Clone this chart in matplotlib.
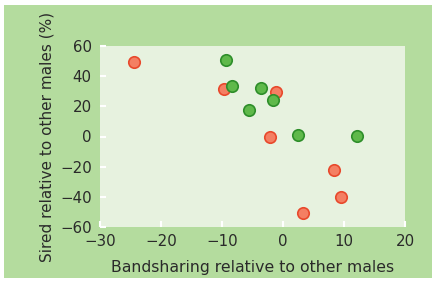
import matplotlib

matplotlib.use("Agg")
import matplotlib.pyplot as plt
from matplotlib.patches import Rectangle

# data
red_x = [-24.5, -9.7, -1.1, -2.1, 8.3, 9.5, 3.2]
red_y = [49.3, 31.3, 29.3, 0.0, -22.2, -40.2, -50.7]
green_x = [-9.4, -8.3, -3.6, -5.5, -1.7, 2.5, 12.1]
green_y = [50.4, 33.8, 32.4, 17.3, 24.2, 1.1, 0.2]
xticks = [-30, -20, -10, 0, 10, 20]
yticks = [-60, -40, -20, 0, 20, 40, 60]

plt.rcParams["font.family"] = ["DejaVu Sans"]

fig = plt.figure(figsize=(4.32, 2.81), dpi=100, facecolor="white")
# green panel behind everything
fig.add_artist(Rectangle((4 / 432, 3 / 281), 428 / 432, 273 / 281,
                         transform=fig.transFigure, facecolor="#b4dc9e",
                         edgecolor="none", zorder=-10))

ax = fig.add_axes([100 / 432, 54 / 281, 305 / 432, 181 / 281])
ax.set_facecolor("#e7f2df")
for s in ax.spines.values():
    s.set_visible(False)

ax.scatter(red_x, red_y, s=68, facecolor="#f47f63", edgecolor="#e8492c",
           linewidth=1.2, zorder=3)
ax.scatter(green_x, green_y, s=68, facecolor="#5fb94a", edgecolor="#2e8e2a",
           linewidth=1.2, zorder=3)

ax.set_xlim(-30, 20)
ax.set_ylim(-60, 60)
ax.set_xticks(xticks)
ax.set_yticks(yticks)
ax.set_xticklabels(["\u221230", "\u221220", "\u221210", "0", "10", "20"])
ax.set_yticklabels(["\u221260", "\u221240", "\u221220", "0", "20", "40", "60"])
ax.tick_params(direction="in", length=4, width=1.5, color="white",
               labelsize=10.8, labelcolor="#2a2a2a")
ax.tick_params(axis="x", pad=5)
ax.tick_params(axis="y", pad=6)

ax.set_xlabel("Bandsharing relative to other males", fontsize=11.3,
              color="#2a2a2a", labelpad=8)
ax.set_ylabel("Sired relative to other males (%)", fontsize=11,
              color="#2a2a2a", labelpad=4)

fig.savefig("out.png", dpi=100, facecolor="white")
